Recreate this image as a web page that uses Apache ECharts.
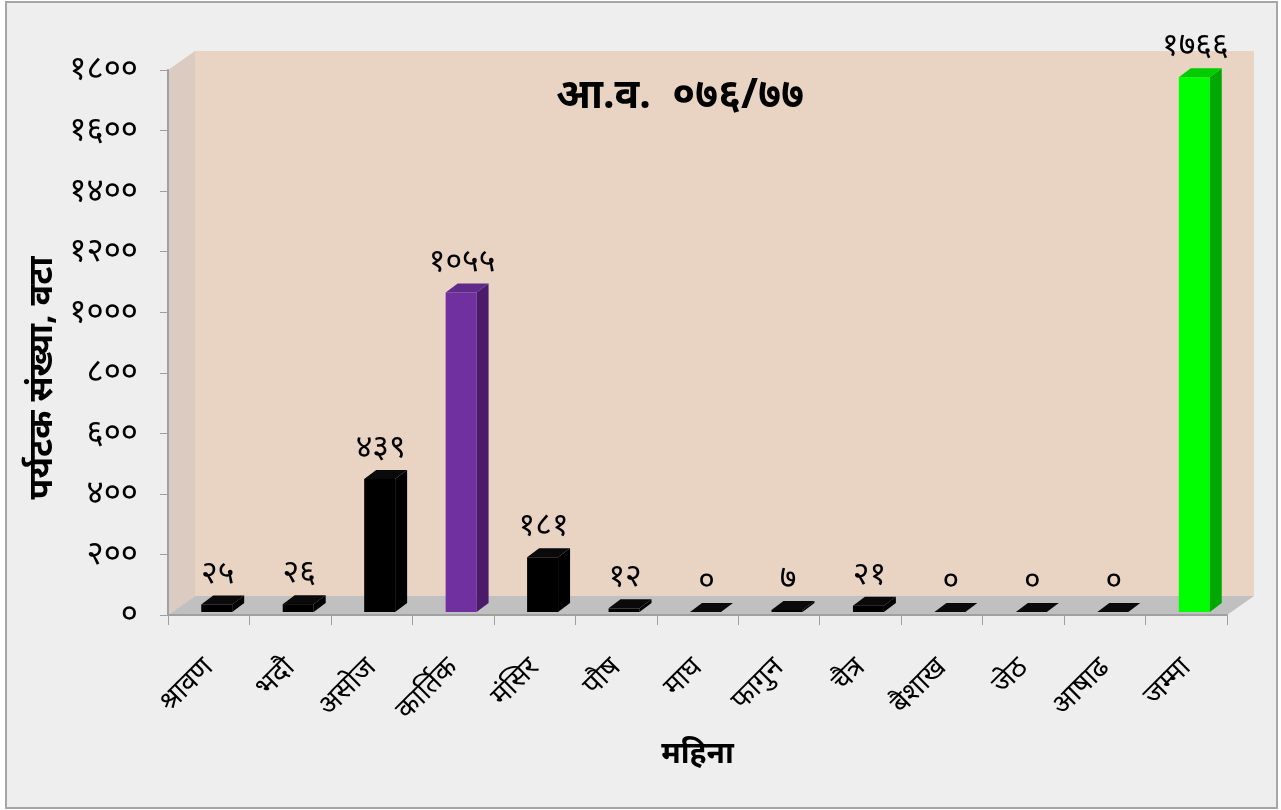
<!DOCTYPE html>
<html>
<head>
<meta charset="utf-8">
<script src="https://cdn.jsdelivr.net/npm/echarts@6/dist/echarts.min.js"></script>
<style>
  html, body { margin: 0; padding: 0; background: #ffffff; }
  #chart { width: 1281px; height: 810px; }
</style>
</head>
<body>
<div id="chart"></div>
<script>
// Monthly tourist arrivals, fiscal year 076/77
const months = ['श्रावण', 'भदौ', 'असोज', 'कार्तिक', 'मंसिर', 'पौष', 'माघ', 'फागुन', 'चैत्र', 'बैशाख', 'जेठ', 'आषाढ', 'जम्मा'];
const visitors = [25, 26, 439, 1055, 181, 12, 0, 7, 21, 0, 0, 0, 1766];
const yMin = 0;
const yMax = 1800;
const yStep = 200;

const chartTitle = 'आ.व.  ०७६/७७';
const yName = 'पर्यटक संख्या, वटा';
const xName = 'महिना';

// face colours of each prism: [front, side, top]
const plainFaces = ['#000000', '#000000', '#0a0a0a'];
const faceOverrides = { 3: ['#7030a0', '#4b1b6b', '#5f2a8a'], 12: ['#00ff00', '#00a800', '#00cc00'] };

const FONT = "'Noto Sans', 'Noto Sans Devanagari', 'Lohit Devanagari', 'FreeSans', 'Mangal', sans-serif";
const devDigits = '०१२३४५६७८९';
function toDev(n) {
  return String(n).replace(/[0-9]/g, d => devDigits[+d]);
}

// depth of the 3D box (floor + walls)
const WALL_DX = 27, WALL_DY = -19;
// bar prism depth and its offset inside the box
const BAR_DX = 12, BAR_DY = -9, BAR_OX = 8, BAR_OY = -3;

const chart = echarts.init(document.getElementById('chart'));

function renderWalls(params, api) {
  const cs = params.coordSys;
  const gx = cs.x, gy = cs.y, gw = cs.width, gh = cs.height;
  const by = gy + gh;
  return {
    type: 'group',
    children: [
      { type: 'polygon', shape: { points: [[gx, gy], [gx + WALL_DX, gy + WALL_DY], [gx + WALL_DX, by + WALL_DY], [gx, by]] },
        style: { fill: '#dccbc0' } },
      { type: 'rect', shape: { x: gx + WALL_DX, y: gy + WALL_DY, width: gw, height: gh },
        style: { fill: '#e9d4c3' } },
      { type: 'polygon', shape: { points: [[gx, by], [gx + WALL_DX, by + WALL_DY], [gx + gw + WALL_DX, by + WALL_DY], [gx + gw, by]] },
        style: { fill: '#c0c0c0' } }
    ]
  };
}

function renderBar(params, api) {
  const idx = api.value(0);
  const val = api.value(1);
  const base = api.coord([idx, 0]);
  const top = api.coord([idx, val]);
  const band = api.size([1, 0])[0];
  const w = band * 0.38;
  const faces = faceOverrides[idx] || plainFaces;
  const xl = base[0] + BAR_OX - w / 2;
  const xr = xl + w;
  const yb = base[1] + BAR_OY;
  const yt = top[1] + BAR_OY;
  return {
    type: 'group',
    children: [
      { type: 'rect', shape: { x: xl, y: yt, width: w, height: yb - yt }, style: { fill: faces[0] } },
      { type: 'polygon', shape: { points: [[xr, yb], [xr + BAR_DX, yb + BAR_DY], [xr + BAR_DX, yt + BAR_DY], [xr, yt]] },
        style: { fill: faces[1] } },
      { type: 'polygon', shape: { points: [[xl, yt], [xr, yt], [xr + BAR_DX, yt + BAR_DY], [xl + BAR_DX, yt + BAR_DY]] },
        style: { fill: faces[2] } },
      { type: 'text', x: xl + w / 2 + 1, y: yt - 15,
        style: { text: toDev(val), fill: '#000', font: '32px ' + FONT, textAlign: 'center', textVerticalAlign: 'bottom' } }
    ]
  };
}

const option = {
  backgroundColor: '#ffffff',
  animation: false,
  graphic: [
    { type: 'rect', z: -10, shape: { x: 6, y: 2, width: 1271, height: 806 },
      style: { fill: '#eeeeee', stroke: '#a6a6a6', lineWidth: 2 } },
    { type: 'text', z: 10, x: 680, y: 96,
      style: { text: chartTitle, font: 'bold 41px ' + FONT, fill: '#000', textAlign: 'center', textVerticalAlign: 'middle' } },
    { type: 'text', z: 10, x: 42, y: 378, rotation: Math.PI / 2,
      style: { text: yName, font: 'bold 34px ' + FONT, fill: '#000', textAlign: 'center', textVerticalAlign: 'middle' } }
  ],
  grid: { left: 168, right: 54, top: 70, bottom: 195 },
  xAxis: {
    type: 'category',
    data: months,
    z: 5,
    axisLine: { lineStyle: { color: '#a0a0a0', width: 2 } },
    axisTick: { show: true, length: 10, lineStyle: { color: '#a0a0a0', width: 1 } },
    axisLabel: { rotate: 45, margin: 48, color: '#000', fontSize: 28, fontFamily: FONT, interval: 0 },
    name: xName,
    nameLocation: 'middle',
    nameGap: 124,
    nameTextStyle: { color: '#000', fontSize: 30, fontWeight: 'bold', fontFamily: FONT }
  },
  yAxis: {
    type: 'value',
    min: yMin,
    max: yMax,
    interval: yStep,
    z: 5,
    axisLine: { show: true, lineStyle: { color: '#a0a0a0', width: 2 } },
    axisTick: { show: true, length: 8, lineStyle: { color: '#a0a0a0', width: 1 } },
    splitLine: { show: false },
    axisLabel: { margin: 30, color: '#000', fontSize: 33, fontFamily: FONT, formatter: v => toDev(v) }
  },
  series: [
    {
      type: 'custom',
      name: 'walls',
      silent: true,
      z: 0,
      clip: false,
      renderItem: renderWalls,
      data: [[0, 0]]
    },
    {
      type: 'custom',
      name: 'visitors',
      z: 2,
      clip: false,
      renderItem: renderBar,
      encode: { x: 0, y: 1 },
      data: visitors.map((v, i) => [i, v])
    }
  ]
};

chart.setOption(option);
</script>
</body>
</html>
